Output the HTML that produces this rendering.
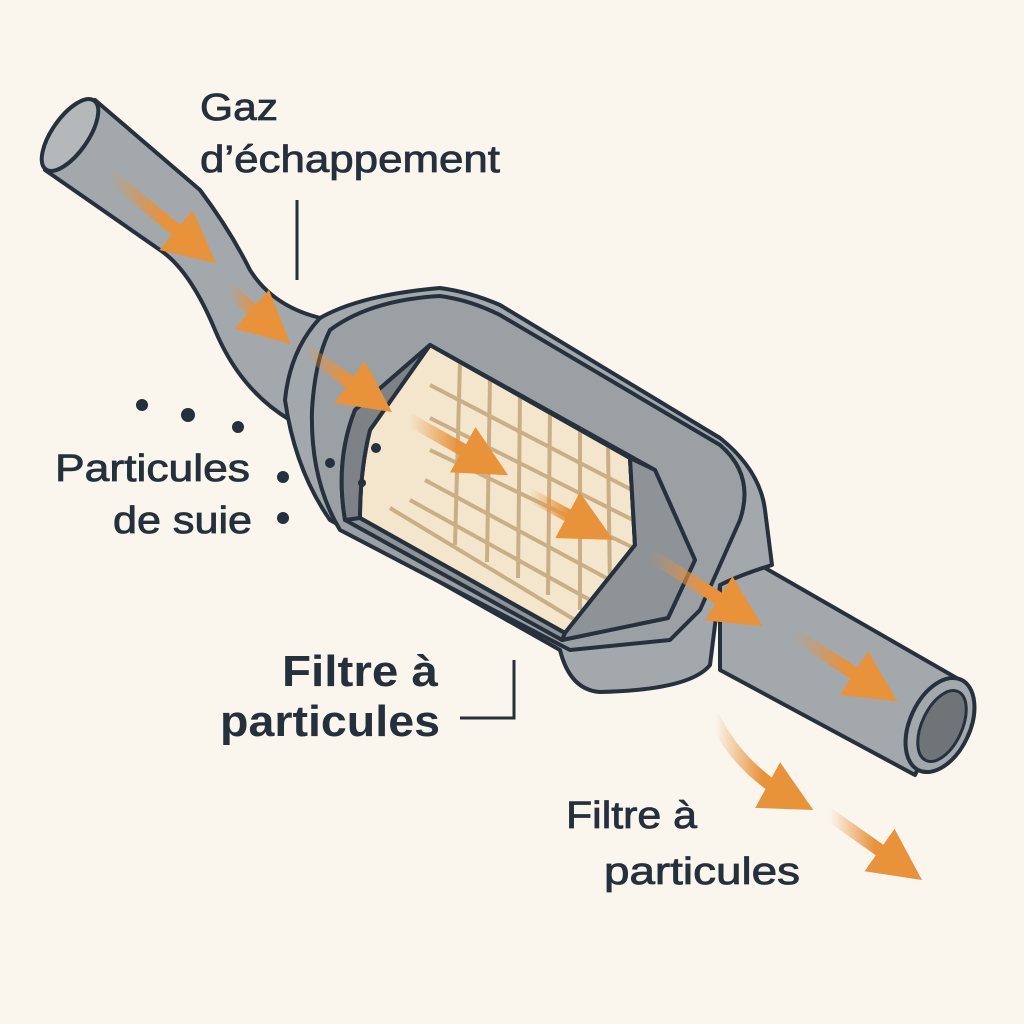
<!DOCTYPE html>
<html><head><meta charset="utf-8"><style>
html,body{margin:0;padding:0;background:#faf6ee}
svg{display:block}
text{font-family:"Liberation Sans",sans-serif;fill:#25303d}
.m{stroke:#25303d;stroke-width:0.8}
</style></head><body>
<svg width="1024" height="1024" viewBox="0 0 1024 1024" xmlns="http://www.w3.org/2000/svg">
<defs>
<linearGradient id="ar" x1="0" y1="0" x2="1" y2="0">
<stop offset="0" stop-color="#e8923a" stop-opacity="0"/>
<stop offset="0.6" stop-color="#e8923a" stop-opacity="1"/>
</linearGradient>
<marker id="hd" viewBox="0 0 10 10" refX="6" refY="5" markerWidth="4" markerHeight="4" orient="auto">
<path d="M0,0 L10,5 L0,10 z" fill="#e8923a"/></marker>
</defs>
<rect width="1024" height="1024" fill="#faf6ee"/>
<g stroke="#27313d" stroke-width="4" stroke-linejoin="round">
<path d="M95,100 L200,190 Q230,230 250,270 Q275,310 330,320 L290,420 Q240,390 215,330 Q190,270 160,250 L45,170 Z" fill="#a3a8ac"/>
<ellipse cx="70" cy="135" rx="18" ry="42" transform="rotate(35 70 135)" fill="#b4b8bb"/>
<path d="M720,580 L760,565 L960,680 L915,775 L720,670 Z" fill="#a3a8ac"/>
<path d="M320,318 Q360,295 440,288 Q470,292 500,305 L720,438 Q760,470 765,510 L772,565 Q740,575 720,585 L710,665 Q690,690 600,692 Q570,690 560,650 L330,520 Q295,470 285,400 Q290,350 320,318 Z" fill="#a3a8ac"/>
<path d="M330,330 Q370,300 440,296 Q470,300 500,315 L720,445 Q755,475 740,520 L700,610 L670,640 L570,650 L340,530 Q310,480 312,410 Q315,360 330,330 Z" fill="#9ba0a4"/>
<path d="M430,345 L655,470 L695,560 L668,618 L562,640 L345,520 Q335,460 355,410 Z" fill="#8e9397"/>
<path d="M430,345 L630,458 L635,545 L565,633 L360,518 Q360,470 370,430 Z" fill="#f3e6cc"/>
</g>
<g stroke="#c9ae86" stroke-width="4" fill="none">
<path d="M460,362 L455,545 M490,378 L487,562 M520,395 L518,578 M550,412 L548,595 M580,428 L580,610 M608,444 L610,590"/>
<path d="M430,385 L632,490 M430,418 L633,520 M430,450 L634,548 M425,480 L610,580 M410,500 L590,600 M390,508 L575,620"/>
</g>
<path d="M430,345 L630,458 L635,545 L565,633 L360,518" fill="none" stroke="#27313d" stroke-width="4"/>
<path d="M630,458 L655,470 L695,560 L668,618 L562,640 L565,633 L635,545 Z" fill="#8e9397" stroke="#27313d" stroke-width="4" stroke-linejoin="round"/>
<path d="M430,345 L370,430 Q360,470 360,518 L345,520 Q335,460 355,410 Z" fill="#7d8286" stroke="#27313d" stroke-width="4" stroke-linejoin="round"/>
<ellipse cx="940" cy="725" rx="30" ry="50" transform="rotate(25 940 725)" fill="#a3a8ac" stroke="#27313d" stroke-width="4"/>
<ellipse cx="942" cy="726" rx="20" ry="38" transform="rotate(25 942 726)" fill="#6f7478" stroke="#27313d" stroke-width="3"/>
<g stroke="url(#ar)" stroke-width="13" fill="none" marker-end="url(#hd)" stroke-linecap="round">
<path d="M110,175 L200,250"/>
<path d="M230,290 L275,330"/>
<path d="M305,350 L375,400"/>
<path d="M410,420 L490,465"/>
<path d="M530,495 L595,530"/>
<path d="M650,555 L745,615"/>
<path d="M795,635 L880,690"/>
<path d="M715,720 Q740,770 795,800"/>
<path d="M830,815 L905,868"/>
</g>
<g fill="#25303d">
<circle cx="142" cy="405" r="6"/><circle cx="188" cy="415" r="7"/><circle cx="238" cy="427" r="6"/>
<circle cx="283" cy="477" r="6"/><circle cx="283" cy="518" r="6"/>
<circle cx="330" cy="463" r="5"/><circle cx="376" cy="448" r="5"/><circle cx="362" cy="483" r="4"/>
</g>
<path d="M297,200 L297,280" stroke="#25303d" stroke-width="3" fill="none"/>
<path d="M460,718 L514,718 L514,660" stroke="#25303d" stroke-width="3" fill="none"/>
<text class="m" x="200" y="120" font-size="38" textLength="78" lengthAdjust="spacingAndGlyphs">Gaz</text>
<text class="m" x="200" y="172" font-size="38" textLength="300" lengthAdjust="spacingAndGlyphs">d’échappement</text>
<text class="m" x="55" y="481" font-size="38" textLength="195" lengthAdjust="spacingAndGlyphs">Particules</text>
<text class="m" x="113" y="533" font-size="38" textLength="139" lengthAdjust="spacingAndGlyphs">de suie</text>
<text x="282" y="686" font-size="44" font-weight="bold" textLength="156" lengthAdjust="spacingAndGlyphs">Filtre à</text>
<text x="220" y="736" font-size="44" font-weight="bold" textLength="220" lengthAdjust="spacingAndGlyphs">particules</text>
<text class="m" x="566" y="828" font-size="38" textLength="131" lengthAdjust="spacingAndGlyphs">Filtre à</text>
<text class="m" x="604" y="884" font-size="38" textLength="196" lengthAdjust="spacingAndGlyphs">particules</text>
</svg>
</body></html>
